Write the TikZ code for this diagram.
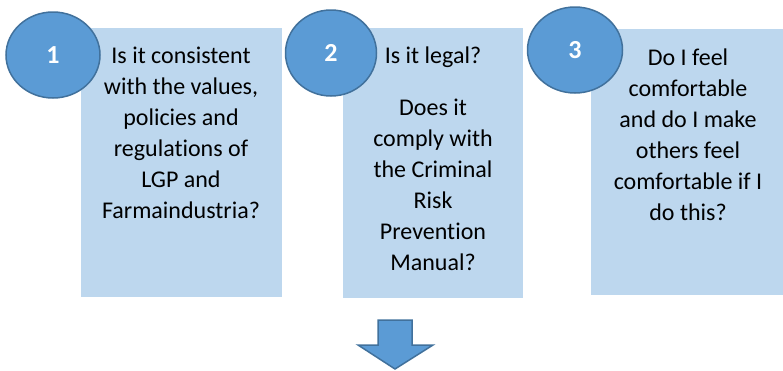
\documentclass[tikz,border=0pt]{standalone}
\usepackage{fontspec}
\setmainfont{Carlito}[Ligatures={NoCommon}]
\usetikzlibrary{shapes.geometric}
\definecolor{boxfill}{HTML}{BDD7EE}
\definecolor{circfill}{HTML}{5B9BD5}
\definecolor{circline}{HTML}{41719C}
\tikzset{
  qbox/.style={fill=boxfill, draw=none, anchor=north west, inner sep=0pt},
  qtext/.style={align=center, anchor=base, inner sep=0pt, font=\fontsize{24}{31}\selectfont},
  num/.style={ellipse, fill=circfill, draw=circline, line width=1.5pt, inner sep=0pt,
    text=white, font=\fontsize{26}{30}\selectfont\bfseries},
  downarrow/.style={fill=circfill, draw=circline, line width=1.5pt, line join=miter}
}
\begin{document}
\begin{tikzpicture}[x=1pt,y=-1pt]
\useasboundingbox (0,0) rectangle (783,370);
\node[qbox, minimum width=201pt, minimum height=269pt] (b1) at (81,28) {};
\node[qbox, minimum width=180pt, minimum height=270pt] (b2) at (343,28) {};
\node[qbox, minimum width=192pt, minimum height=266pt] (b3) at (591,29) {};
\node[num, minimum width=94pt, minimum height=86pt] (c1) at (53,55) {1};
\node[num, minimum width=91pt, minimum height=86pt] (c2) at (331,53) {2};
\node[num, minimum width=95pt, minimum height=86pt] (c3) at (575,50) {3};
\node[qtext] (t1) at (181,218) {Is it consistent\\with the values,\\policies and\\regulations of\\LGP and\\Farmaindustria?};
\node[qtext] (t2) at (433,270) {Is it legal?\\[21pt]Does it\\comply with\\the Criminal\\Risk\\Prevention\\Manual?};
\node[qtext] (t3) at (688,220) {Do I feel\\comfortable\\and do I make\\others feel\\comfortable if I\\do this?};
\draw[downarrow] (378,320) -- (412,320) -- (412,345) -- (433,345) -- (395,369)
  -- (358,345) -- (378,345) -- cycle;
\end{tikzpicture}
\end{document}
